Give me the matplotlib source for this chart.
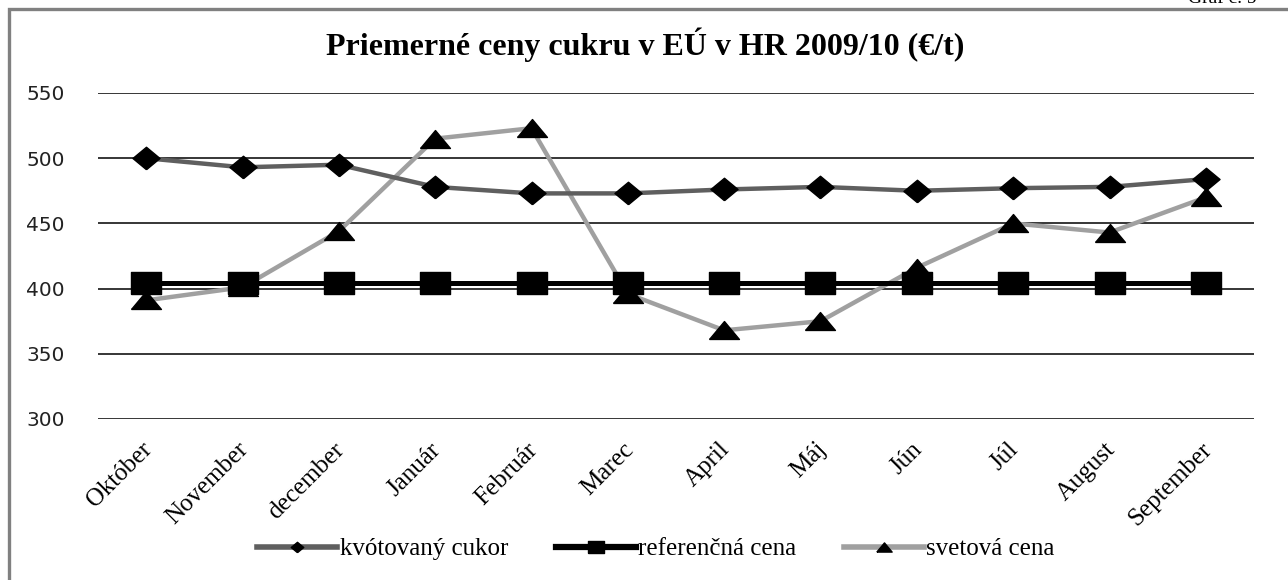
import matplotlib
matplotlib.use("Agg")
import matplotlib.pyplot as plt
import matplotlib.transforms as mtransforms
from matplotlib.lines import Line2D
from matplotlib.patches import Rectangle

months = ["Október", "November", "december", "Január", "Február", "Marec",
          "April", "Máj", "Jún", "Júl", "August", "September"]
kvotovany = [500, 493, 495, 478, 473, 473, 476, 478, 475, 477, 478, 484]
referencna = [404, 404, 404, 404, 404, 404, 404, 404, 404, 404, 404, 404]
svetova = [391, 401, 444, 515, 523, 396, 368, 375, 416, 450, 443, 470]
yticks = [300, 350, 400, 450, 500, 550]

title = "Priemerné ceny cukru v EÚ v HR 2009/10 (€/t)"
series_names = ["kvótovaný cukor", "referenčná cena", "svetová cena"]

# horizontally stretched marker shapes (as in the reference)
SQ = [(-1.38, -1), (1.38, -1), (1.38, 1), (-1.38, 1), (-1.38, -1)]
DI = [(0, -0.83), (1, 0), (0, 0.83), (-1, 0), (0, -0.83)]
TR = [(-1, -0.6), (1, -0.6), (0, 0.6), (-1, -0.6)]

W, H = 1288, 580
fig = plt.figure(figsize=(W / 100, H / 100), dpi=100)
fig.patch.set_facecolor("white")

# outer frame (only top and left edges visible in the reference)
fig.patches.append(Rectangle((8.5 / W, -0.2), 1.2, 1.2 - 9.0 / H,
                             transform=fig.transFigure, fill=False,
                             edgecolor="#808080", linewidth=2.4))
fig.text(1257 / W, 1 - 3 / H, "Graf č. 5", ha="right", va="baseline",
         fontsize=14, family="Liberation Serif", color="black")

ax = fig.add_axes([98 / W, 1 - 419 / H, (1254 - 98) / W, (419 - 93) / H])
x = list(range(len(months)))

ax.plot(x, svetova, color="#a0a0a0", linewidth=3.2, marker=TR,
        markersize=21.5, markerfacecolor="black", markeredgecolor="black",
        zorder=3)
ax.plot(x, kvotovany, color="#5f5f5f", linewidth=3.2, marker=DI,
        markersize=19.5, markerfacecolor="black", markeredgecolor="black",
        zorder=4)
ax.plot(x, referencna, color="black", linewidth=3.6, marker=SQ,
        markersize=22, markerfacecolor="black", markeredgecolor="black",
        zorder=5)

ax.set_xlim(-0.5, len(months) - 0.5)
ax.set_ylim(300, 550)
ax.set_yticks(yticks)
ax.yaxis.grid(True, color="black", linewidth=1.1)
ax.set_axisbelow(True)
for s in ax.spines.values():
    s.set_visible(False)
ax.tick_params(axis="both", length=0)
ax.tick_params(axis="y", pad=24)
ax.set_yticklabels([str(v) for v in yticks], family="DejaVu Sans",
                   fontsize=14.5, color="#222222")
ax.set_xticks(x)
ax.set_xticklabels(months, rotation=45, ha="right", rotation_mode="default",
                   family="Liberation Serif", fontsize=18)
ax.tick_params(axis="x", pad=14)
offset = mtransforms.ScaledTranslation(10 / 100, 0, fig.dpi_scale_trans)
for lbl in ax.get_xticklabels():
    lbl.set_transform(lbl.get_transform() + offset)

fig.text(645 / W, 1 - 45 / H, title, ha="center", va="center",
         fontsize=23, fontweight="bold", family="Liberation Serif")

handles = [
    Line2D([], [], color="#5f5f5f", linewidth=4, marker=DI, markersize=9,
           markerfacecolor="black", markeredgecolor="black"),
    Line2D([], [], color="black", linewidth=4.5, marker=SQ, markersize=12,
           markerfacecolor="black", markeredgecolor="black"),
    Line2D([], [], color="#a0a0a0", linewidth=4, marker=TR, markersize=11,
           markerfacecolor="black", markeredgecolor="black"),
]
fig.legend(handles, series_names, loc="center", bbox_to_anchor=(656 / W, 1 - 549 / H),
           ncol=3, frameon=False, handlelength=3.2, handletextpad=0.1,
           columnspacing=1.9, prop={"family": "Liberation Serif", "size": 18})

fig.savefig("out.png", dpi=100)
